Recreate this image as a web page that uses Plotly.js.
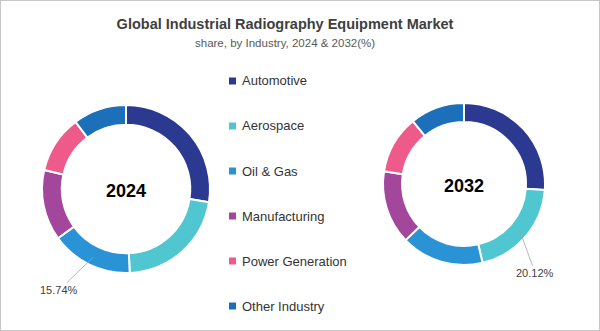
<!DOCTYPE html>
<html><head><meta charset="utf-8">
<script src="https://cdn.plot.ly/plotly-3.0.1.min.js"></script>
<style>
html,body{margin:0;padding:0;background:#fff;}
#wrap{position:relative;width:600px;height:331px;}
#chart{width:600px;height:331px;}
#frame{position:absolute;left:0;top:0;width:598px;height:329px;border:1px solid #c6c6c6;pointer-events:none;}
</style></head>
<body>
<div id="wrap"><div id="chart"></div><div id="frame"></div></div>
<script>
const categories = ["Automotive","Aerospace","Oil & Gas","Manufacturing","Power Generation","Other Industry"];
const share2024 = [27.5, 21.8, 15.74, 13.6, 11.1, 10.26];
const share2032 = [26.2, 20.12, 16.5, 14.7, 11.6, 10.88];
const colors = ["#2b3990","#4fc6d0","#2a93d5","#a2479b","#ee5a8a","#1c6fb9"];
const years = ["2024","2032"];

const W = 600, H = 331;
const FONT = "Liberation Sans, Arial, sans-serif";

// donut geometry in pixels (center x, center y, radius)
const geo = [{cx:126, cy:189, r:84}, {cx:464, cy:184, r:81}];
function dom(g){
  return {x:[(g.cx-g.r)/W,(g.cx+g.r)/W], y:[1-(g.cy+g.r)/H, 1-(g.cy-g.r)/H]};
}

const series = [share2024, share2032];
const traces = series.map((vals,k)=>({
  type:"pie", values:vals, labels:categories, sort:false, direction:"clockwise", rotation:0,
  hole:0.765, domain:dom(geo[k]), textinfo:"none", hoverinfo:"label+percent",
  marker:{colors:colors, line:{color:"#ffffff", width:2}}, showlegend:false,
  title:{text:"<b>"+years[k]+"</b>", position:"middle center", font:{family:FONT, size:18, color:"#000"}}
}));

// point on ring at middle of slice idx
function slicePoint(vals, idx, g, rr){
  const tot = vals.reduce((a,b)=>a+b,0);
  let start = 0; for(let i=0;i<idx;i++) start += vals[i];
  const mid = (start + vals[idx]/2)/tot*2*Math.PI;
  const px = g.cx + rr*Math.sin(mid), py = g.cy - rr*Math.cos(mid);
  return {x:px/W, y:1-py/H};
}

const annotations = [];
const shapes = [];
// legend built from categories
categories.forEach((c,i)=>{
  const yc = 81 + i*45;
  shapes.push({type:"rect", xref:"paper", yref:"paper", x0:229/W, x1:236/W, y0:1-(yc+3.5)/H, y1:1-(yc-3.5)/H,
    fillcolor:colors[i], line:{width:0}});
  annotations.push({xref:"paper", yref:"paper", x:240/W, y:1-yc/H, xanchor:"left", yanchor:"middle",
    text:c, showarrow:false, font:{family:FONT, size:13, color:"#333333"}});
});

// value labels
const p1 = slicePoint(share2024, 2, geo[0], 76);
annotations.push({xref:"paper", yref:"paper", x:p1.x, y:p1.y, ax:-34, ay:33, showarrow:true, arrowhead:0,
  arrowwidth:0.8, arrowcolor:"#a6a6a6", text:share2024[2].toFixed(2)+"%", font:{family:FONT, size:11, color:"#404040"}});
const p2 = slicePoint(share2032, 1, geo[1], 74);
annotations.push({xref:"paper", yref:"paper", x:p2.x, y:p2.y, ax:15, ay:41, showarrow:true, arrowhead:0,
  arrowwidth:0.8, arrowcolor:"#a6a6a6", text:share2032[1].toFixed(2)+"%", font:{family:FONT, size:11, color:"#404040"}});

// subtitle
annotations.push({xref:"paper", yref:"paper", x:0.475, y:1-43/H, xanchor:"center", yanchor:"middle", showarrow:false,
  text:"share, by Industry, 2024 & 2032(%)", font:{family:FONT, size:11.5, color:"#595959"}});

const layout = {
  width:W, height:H, margin:{l:0,r:0,t:0,b:0}, paper_bgcolor:"#fff",
  title:{text:"<b>Global Industrial Radiography Equipment Market</b>", x:0.475, xanchor:"center", y:1-24/H, yanchor:"middle",
    font:{family:FONT, size:14.5, color:"#404040"}},
  annotations:annotations, shapes:shapes
};
Plotly.newPlot("chart", traces, layout, {displayModeBar:false, staticPlot:true});
</script>
</body></html>
